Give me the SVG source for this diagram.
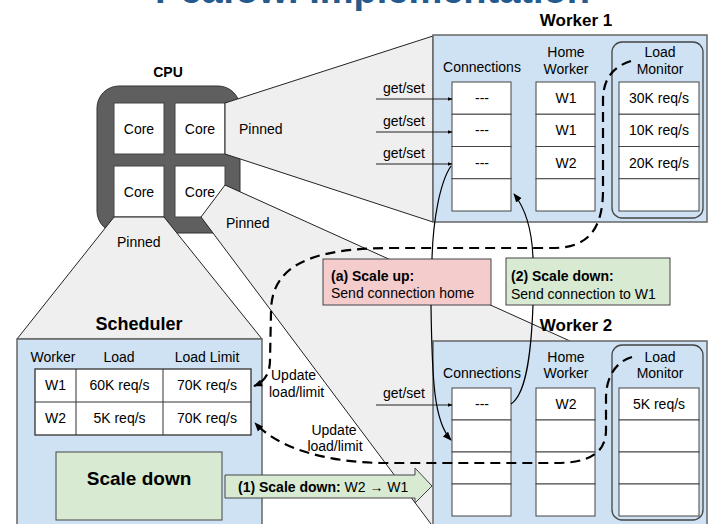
<svg xmlns="http://www.w3.org/2000/svg" width="708" height="524" viewBox="0 0 708 524">
<defs>
<style>
text{font-family:"Liberation Sans",Arial,sans-serif;font-size:14px;fill:#000}
.b{font-weight:bold}
.c{text-anchor:middle}
.proj{fill:#efefef;stroke:#222;stroke-width:1}
.box{fill:#cfe2f3;stroke:#666;stroke-width:1.5}
.cell{fill:#fff;stroke:#444;stroke-width:1}
.lm{fill:none;stroke:#444;stroke-width:1.3}
.core{fill:#fff;stroke:#444;stroke-width:1}
.arr{fill:none;stroke:#000;stroke-width:1.2}
.gs{fill:none;stroke:#222;stroke-width:1}
.dash{fill:none;stroke:#000;stroke-width:2.2;stroke-dasharray:10,6}
.pink{fill:#f4cccc;stroke:#444;stroke-width:1}
.grn{fill:#d9ead3;stroke:#444;stroke-width:1}
</style>
<marker id="ah" viewBox="0 0 10 10" refX="9" refY="5" markerWidth="9" markerHeight="9" markerUnits="userSpaceOnUse" orient="auto">
<path d="M0,1 L10,5 L0,9 z" fill="#000"/>
</marker>
<marker id="sm" viewBox="0 0 10 10" refX="9" refY="5" markerWidth="5" markerHeight="5" markerUnits="userSpaceOnUse" orient="auto">
<path d="M0,1 L10,5 L0,9 z" fill="#000"/>
</marker>
</defs>

<text x="155" y="3" class="b" style="font-size:38px;fill:#245a8d">Peafowl Implementation</text>

<g id="cpu">
<text x="168" y="77" class="b c">CPU</text>
<rect x="97" y="86" width="143" height="147" rx="22" fill="#5f5f5f" stroke="#333" stroke-width="1"/>
<rect class="core" x="114" y="103" width="50" height="51"/>
<rect class="core" x="175" y="103" width="50" height="51"/>
<rect class="core" x="114" y="166" width="50" height="51"/>
<rect class="core" x="175" y="166" width="50" height="51"/>
</g>

<g id="projections">
<polygon class="proj" points="225,103 433,36 433,222 225,154"/>
<polygon class="proj" points="225,185 570,341 570,540 443,540 201,217"/>
<polygon class="proj" points="114,217 164,217 262,339 17,339"/>
</g>

<g id="cores-text">
<text x="139" y="134" class="c">Core</text>
<text x="200" y="134" class="c">Core</text>
<text x="139" y="197" class="c">Core</text>
<text x="200" y="197" class="c">Core</text>
<text x="239" y="134">Pinned</text>
<text x="226" y="228">Pinned</text>
<text x="117" y="247">Pinned</text>
</g>

<g id="worker1">
<rect class="box" x="433" y="35" width="274" height="187"/>
<text x="576" y="26" class="b c" style="font-size:17px">Worker 1</text>
<text x="482" y="72" class="c">Connections</text>
<text x="566" y="57" class="c">Home</text>
<text x="566" y="74" class="c">Worker</text>
<rect class="lm" x="612" y="42" width="91" height="176" rx="10"/>
<text x="660" y="57" class="c">Load</text>
<text x="660" y="74" class="c">Monitor</text>
<rect class="cell" x="452" y="82" width="59" height="32.25"/>
<rect class="cell" x="452" y="114.25" width="59" height="32.25"/>
<rect class="cell" x="452" y="146.5" width="59" height="32.25"/>
<rect class="cell" x="452" y="178.75" width="59" height="32.25"/>
<rect class="cell" x="536" y="82" width="59" height="32.25"/>
<rect class="cell" x="536" y="114.25" width="59" height="32.25"/>
<rect class="cell" x="536" y="146.5" width="59" height="32.25"/>
<rect class="cell" x="536" y="178.75" width="59" height="32.25"/>
<rect class="cell" x="619" y="82" width="80" height="32.25"/>
<rect class="cell" x="619" y="114.25" width="80" height="32.25"/>
<rect class="cell" x="619" y="146.5" width="80" height="32.25"/>
<rect class="cell" x="619" y="178.75" width="80" height="32.25"/>
<text x="482" y="103" class="c">---</text>
<text x="482" y="135" class="c">---</text>
<text x="482" y="168" class="c">---</text>
<text x="566" y="103" class="c">W1</text>
<text x="566" y="135" class="c">W1</text>
<text x="566" y="168" class="c">W2</text>
<text x="659" y="103" class="c">30K req/s</text>
<text x="659" y="135" class="c">10K req/s</text>
<text x="659" y="168" class="c">20K req/s</text>
</g>

<g id="worker2">
<rect class="box" x="433" y="341" width="274" height="200"/>
<text x="576" y="331" class="b c" style="font-size:17px">Worker 2</text>
<text x="482" y="378" class="c">Connections</text>
<text x="566" y="362" class="c">Home</text>
<text x="566" y="378" class="c">Worker</text>
<rect class="lm" x="612" y="345" width="91" height="175" rx="10"/>
<text x="660" y="362" class="c">Load</text>
<text x="660" y="378" class="c">Monitor</text>
<rect class="cell" x="452" y="388" width="59" height="32"/>
<rect class="cell" x="452" y="420" width="59" height="32"/>
<rect class="cell" x="452" y="452" width="59" height="32"/>
<rect class="cell" x="452" y="484" width="59" height="32"/>
<rect class="cell" x="536" y="388" width="59" height="32"/>
<rect class="cell" x="536" y="420" width="59" height="32"/>
<rect class="cell" x="536" y="452" width="59" height="32"/>
<rect class="cell" x="536" y="484" width="59" height="32"/>
<rect class="cell" x="619" y="388" width="80" height="32"/>
<rect class="cell" x="619" y="420" width="80" height="32"/>
<rect class="cell" x="619" y="452" width="80" height="32"/>
<rect class="cell" x="619" y="484" width="80" height="32"/>
<text x="482" y="409" class="c">---</text>
<text x="566" y="409" class="c">W2</text>
<text x="659" y="409" class="c">5K req/s</text>
</g>

<g id="scheduler">
<rect class="box" x="17" y="339" width="245" height="200"/>
<text x="139" y="330" class="b c" style="font-size:18px">Scheduler</text>
<text x="53" y="362" class="c">Worker</text>
<text x="119" y="362" class="c">Load</text>
<text x="207" y="362" class="c">Load Limit</text>
<rect x="35" y="369" width="216" height="66" fill="#fff" stroke="#333" stroke-width="1.3"/>
<line x1="35" y1="402" x2="251" y2="402" stroke="#333" stroke-width="1"/>
<line x1="76" y1="369" x2="76" y2="435" stroke="#333" stroke-width="1"/>
<line x1="163" y1="369" x2="163" y2="435" stroke="#333" stroke-width="1"/>
<text x="55.5" y="390" class="c">W1</text>
<text x="119.5" y="390" class="c">60K req/s</text>
<text x="207" y="390" class="c">70K req/s</text>
<text x="55.5" y="423" class="c">W2</text>
<text x="119.5" y="423" class="c">5K req/s</text>
<text x="207" y="423" class="c">70K req/s</text>
</g>

<g id="scale-down-box">
<rect class="grn" x="56" y="452" width="166" height="68"/>
<text x="139" y="485" class="b c" style="font-size:19px">Scale down</text>
</g>

<g id="scale-up-label">
<rect class="pink" x="323" y="259" width="168" height="46"/>
<text x="331" y="281" class="b">(a) Scale up:</text>
<text x="331" y="298">Send connection home</text>
</g>

<g id="scale-down-label">
<rect class="grn" x="506" y="258" width="164" height="47"/>
<text x="511" y="281" class="b">(2) Scale down:</text>
<text x="511" y="299">Send connection to W1</text>
</g>

<g id="connectors">
<line class="gs" x1="376" y1="99" x2="452" y2="99" marker-end="url(#sm)"/>
<line class="gs" x1="376" y1="132" x2="452" y2="132" marker-end="url(#sm)"/>
<line class="gs" x1="376" y1="164" x2="452" y2="164" marker-end="url(#sm)"/>
<line class="gs" x1="376" y1="405" x2="452" y2="405" marker-end="url(#sm)"/>
<text x="404" y="93" class="c">get/set</text>
<text x="404" y="126" class="c">get/set</text>
<text x="404" y="158" class="c">get/set</text>
<text x="404" y="398" class="c">get/set</text>

<path class="arr" d="M451,166 C440,182 433,220 432,259"/>
<path class="arr" d="M431,305 C432,380 434,422 451,440" marker-end="url(#ah)"/>
<path class="arr" d="M511,404 C525,395 531,360 533,305"/>
<path class="arr" d="M533,258 C532,230 525,208 514,194" marker-end="url(#ah)"/>

<path class="dash" d="M631,61 C612,67 603,80 603,100 L603,190 C603,236 582,248 552,248 L392,248 C310,248 271,266 271,312 L270,360 C270,374 264,382 254,386" marker-end="url(#ah)"/>
<path class="dash" d="M632,357 C615,362 606,378 606,398 L606,430 C606,455 586,463 556,463 L380,463 C330,462 280,450 255,423" marker-end="url(#ah)"/>
<text x="271" y="380">Update</text>
<text x="269" y="397">load/limit</text>
<text x="334" y="435" class="c">Update</text>
<text x="335" y="451" class="c">load/limit</text>

<polygon class="grn" points="225,475 415,475 415,468 432,486 415,503 415,498 225,498"/>
<text x="238" y="492"><tspan class="b">(1) Scale down:</tspan> W2 → W1</text>
</g>
</svg>
